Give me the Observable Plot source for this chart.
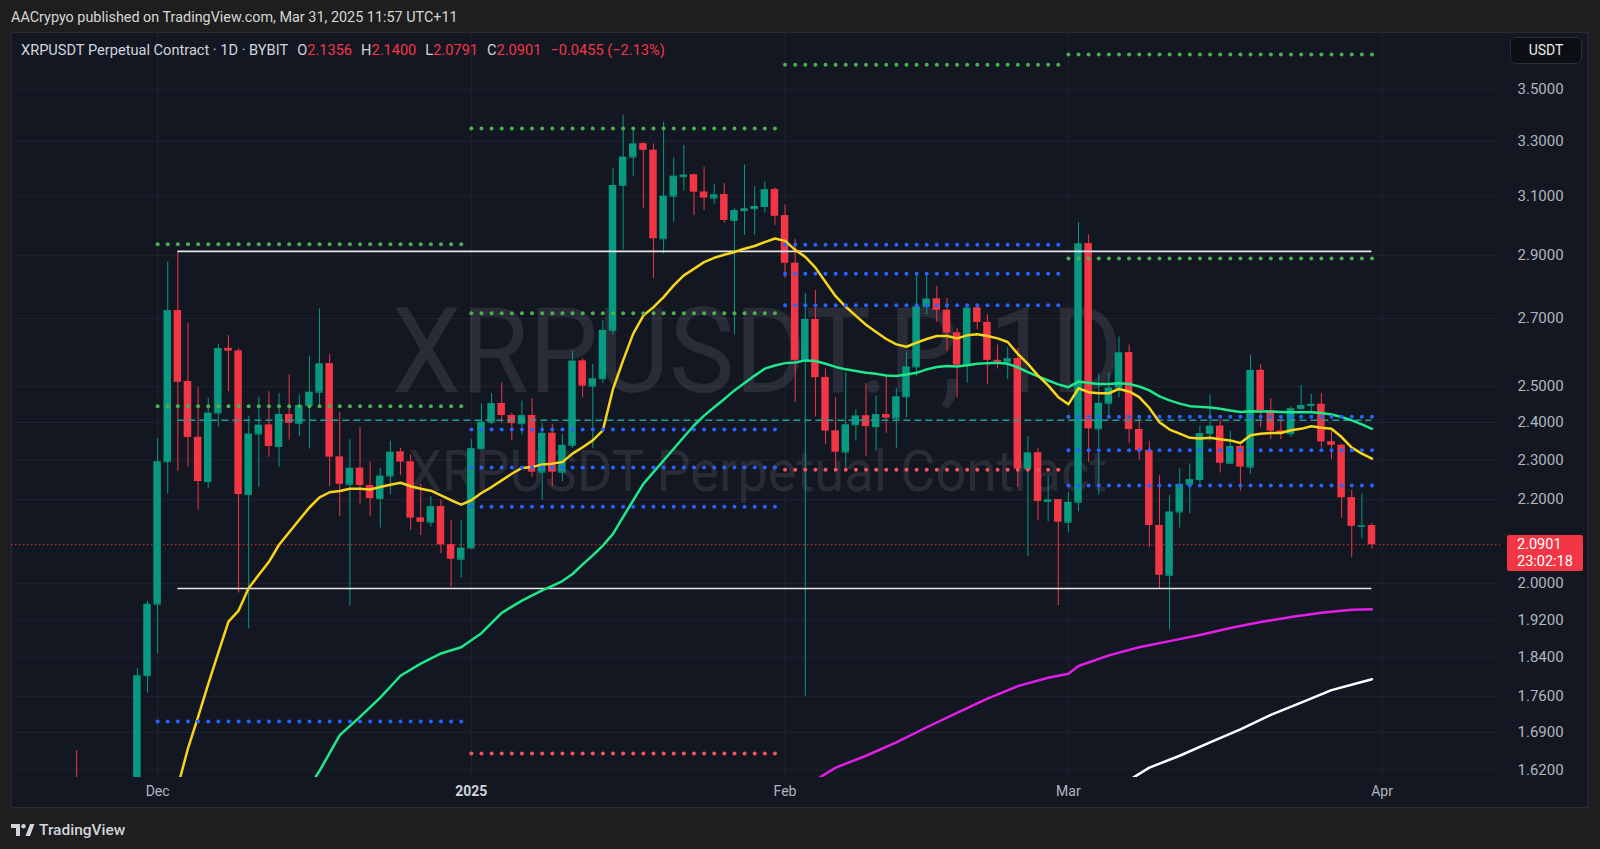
<!DOCTYPE html>
<html><head><meta charset="utf-8"><title>XRPUSDT</title>
<script src="https://cdn.jsdelivr.net/npm/d3@7"></script>
<script src="https://cdn.jsdelivr.net/npm/@observablehq/plot@0.6"></script>
<style>
html,body{margin:0;padding:0;}
body{width:1600px;height:849px;background:#1e1e1e;position:relative;overflow:hidden;font-family:Roboto,"Noto Sans",sans-serif;}
#hdr{position:absolute;left:11px;top:9px;font-size:14.4px;line-height:18px;color:#d6d6d6;white-space:nowrap;}
#panel{position:absolute;left:11px;top:32px;width:1577px;height:776px;background:#131722;box-shadow:inset 0 0 0 1px #262a35;}
#panel svg{position:absolute;left:0;top:0;}
#legend{position:absolute;left:10px;top:9px;font-size:14.6px;line-height:18px;color:#d1d4dc;white-space:pre;}
#legend .v{color:#f23645;}
#legend .g{margin-left:9px;}
#usdt{position:absolute;left:1499px;top:5px;width:72px;height:27px;box-sizing:border-box;border:1px solid #2a2e39;border-radius:6px;background:#0c0e13;color:#e8e8e8;font-size:14px;line-height:25px;text-align:center;}
#price{position:absolute;left:1496px;width:76px;height:36px;background:#f23645;border-radius:2px;color:#fff;font-size:14.5px;line-height:17px;box-sizing:border-box;padding:1px 0 0 10px;}
#footer{position:absolute;left:11px;top:820px;height:20px;display:flex;align-items:center;gap:4px;color:#d1d4dc;font-size:15.5px;font-weight:500;}
</style></head><body>
<div id="hdr">AACrypyo published on TradingView.com, Mar 31, 2025 11:57 UTC+11</div>
<div id="panel"><div id="legend"></div><div id="usdt">USDT</div><div id="price"></div></div>
<div id="footer"><svg width="24" height="13" viewBox="0 0 24 13"><path d="M0 0H9V12H5V4H0Z" fill="#d1d4dc"/><circle cx="12.5" cy="2.2" r="2.2" fill="#d1d4dc"/><path d="M14.5 12L19 0H23.5L19 12Z" fill="#d1d4dc"/></svg><span>TradingView</span></div>
<script>
// ---------- data ----------
const dates = ["2024-11-23","2024-11-29","2024-11-30",
"2024-12-01","2024-12-02","2024-12-03","2024-12-04","2024-12-05","2024-12-06","2024-12-07","2024-12-08","2024-12-09","2024-12-10",
"2024-12-11","2024-12-12","2024-12-13","2024-12-14","2024-12-15","2024-12-16","2024-12-17","2024-12-18","2024-12-19","2024-12-20",
"2024-12-21","2024-12-22","2024-12-23","2024-12-24","2024-12-25","2024-12-26","2024-12-27","2024-12-28","2024-12-29","2024-12-30","2024-12-31",
"2025-01-01","2025-01-02","2025-01-03","2025-01-04","2025-01-05","2025-01-06","2025-01-07","2025-01-08","2025-01-09","2025-01-10",
"2025-01-11","2025-01-12","2025-01-13","2025-01-14","2025-01-15","2025-01-16","2025-01-17","2025-01-18","2025-01-19","2025-01-20",
"2025-01-21","2025-01-22","2025-01-23","2025-01-24","2025-01-25","2025-01-26","2025-01-27","2025-01-28","2025-01-29","2025-01-30","2025-01-31",
"2025-02-01","2025-02-02","2025-02-03","2025-02-04","2025-02-05","2025-02-06","2025-02-07","2025-02-08","2025-02-09","2025-02-10",
"2025-02-11","2025-02-12","2025-02-13","2025-02-14","2025-02-15","2025-02-16","2025-02-17","2025-02-18","2025-02-19","2025-02-20",
"2025-02-21","2025-02-22","2025-02-23","2025-02-24","2025-02-25","2025-02-26","2025-02-27","2025-02-28",
"2025-03-01","2025-03-02","2025-03-03","2025-03-04","2025-03-05","2025-03-06","2025-03-07","2025-03-08","2025-03-09","2025-03-10",
"2025-03-11","2025-03-12","2025-03-13","2025-03-14","2025-03-15","2025-03-16","2025-03-17","2025-03-18","2025-03-19","2025-03-20",
"2025-03-21","2025-03-22","2025-03-23","2025-03-24","2025-03-25","2025-03-26","2025-03-27","2025-03-28","2025-03-29","2025-03-30","2025-03-31"];

const open = [1.56,1.52,1.802,
1.954,2.296,2.724,2.514,2.360,2.245,2.426,2.610,2.602,2.212,2.369,2.393,2.336,2.422,2.398,2.447,2.484,2.565,2.308,2.238,2.279,2.235,2.202,2.259,2.321,2.295,2.154,2.144,2.182,2.090,2.056,
2.082,2.330,2.401,2.452,2.419,2.397,2.419,2.269,2.371,2.269,2.339,2.573,2.501,2.522,2.664,3.139,3.241,3.290,3.266,2.955,3.101,3.170,3.176,3.115,3.094,3.106,3.017,3.051,3.057,3.065,3.124,
3.033,2.874,2.575,2.697,2.525,2.377,2.321,2.394,2.418,2.389,2.422,2.412,2.471,2.556,2.736,2.760,2.725,2.656,2.561,2.732,2.688,2.575,2.570,2.580,2.277,2.319,2.195,2.199,
2.144,2.193,2.938,2.383,2.453,2.496,2.597,2.381,2.325,2.136,2.019,2.169,2.238,2.250,2.370,2.390,2.292,2.336,2.282,2.546,2.433,2.377,2.370,2.438,2.447,2.450,2.348,2.339,2.204,2.134,2.1356];

const high = [1.655,1.816,1.960,
2.357,2.877,2.912,2.685,2.497,2.467,2.623,2.648,2.610,2.417,2.470,2.485,2.480,2.533,2.475,2.587,2.729,2.592,2.428,2.354,2.386,2.295,2.279,2.350,2.331,2.314,2.238,2.207,2.198,2.149,2.148,
2.354,2.452,2.480,2.510,2.425,2.459,2.465,2.398,2.395,2.368,2.602,2.580,2.563,2.694,3.198,3.398,3.347,3.295,3.290,3.372,3.237,3.284,3.180,3.204,3.143,3.145,3.057,3.212,3.135,3.152,3.130,
3.070,2.953,2.778,2.787,2.550,2.468,2.539,2.435,2.508,2.473,2.529,2.495,2.600,2.834,2.837,2.800,2.762,2.670,2.736,2.736,2.712,2.620,2.612,2.610,2.362,2.330,2.258,2.200,
2.218,3.009,2.968,2.536,2.538,2.644,2.620,2.410,2.350,2.260,2.210,2.277,2.290,2.390,2.475,2.408,2.377,2.340,2.590,2.563,2.466,2.410,2.443,2.503,2.478,2.480,2.377,2.340,2.223,2.213,2.1400];

const low = [1.43,1.50,1.767,
1.848,2.213,2.271,2.282,2.174,2.228,2.387,2.485,1.979,1.900,2.230,2.308,2.282,2.353,2.362,2.329,2.440,2.232,2.157,1.950,2.188,2.157,2.130,2.212,2.260,2.124,2.112,2.132,2.069,1.992,2.012,
2.080,2.325,2.395,2.398,2.352,2.366,2.256,2.198,2.233,2.244,2.330,2.468,2.330,2.508,2.650,2.918,3.171,3.057,2.824,2.905,3.011,3.119,3.034,3.051,3.073,3.008,2.650,2.966,2.966,3.042,3.000,
2.826,2.455,1.761,2.415,2.342,2.279,2.270,2.350,2.310,2.323,2.371,2.330,2.413,2.529,2.712,2.688,2.600,2.468,2.510,2.666,2.505,2.550,2.519,2.231,2.062,2.148,2.145,1.951,
2.120,2.170,2.295,2.210,2.420,2.468,2.343,2.300,2.084,1.988,1.897,2.130,2.165,2.240,2.350,2.267,2.290,2.221,2.264,2.386,2.354,2.354,2.360,2.435,2.430,2.331,2.301,2.153,2.060,2.104,2.0791];

const close = [1.48,1.802,1.954,
2.296,2.724,2.512,2.360,2.245,2.426,2.610,2.602,2.212,2.369,2.393,2.336,2.422,2.398,2.447,2.484,2.565,2.308,2.238,2.279,2.235,2.202,2.259,2.321,2.295,2.154,2.144,2.182,2.090,2.056,2.082,
2.330,2.401,2.452,2.419,2.397,2.419,2.269,2.371,2.269,2.339,2.573,2.501,2.522,2.664,3.139,3.241,3.290,3.266,2.955,3.101,3.172,3.176,3.115,3.094,3.106,3.017,3.051,3.057,3.065,3.124,3.031,
2.874,2.575,2.697,2.525,2.377,2.321,2.394,2.418,2.389,2.422,2.412,2.471,2.556,2.736,2.760,2.725,2.656,2.561,2.732,2.688,2.575,2.570,2.580,2.277,2.319,2.195,2.199,2.144,
2.193,2.938,2.383,2.453,2.496,2.597,2.381,2.325,2.136,2.019,2.169,2.238,2.250,2.370,2.390,2.292,2.336,2.282,2.546,2.433,2.377,2.370,2.438,2.447,2.450,2.348,2.339,2.204,2.134,2.1356,2.0901];

// moving averages: [date, value]
const maYellow = [["2024-12-03",1.59],["2024-12-04",1.66],["2024-12-05",1.72],["2024-12-06",1.785],["2024-12-07",1.85],["2024-12-08",1.916],["2024-12-09",1.94],["2024-12-10",1.99],
["2024-12-11",2.02],["2024-12-12",2.05],["2024-12-13",2.09],["2024-12-14",2.12],["2024-12-15",2.15],["2024-12-16",2.18],["2024-12-17",2.205],["2024-12-18",2.218],["2024-12-19",2.221],["2024-12-20",2.227],
["2024-12-21",2.227],["2024-12-22",2.225],["2024-12-23",2.231],["2024-12-24",2.237],["2024-12-25",2.242],["2024-12-26",2.233],["2024-12-27",2.227],["2024-12-28",2.222],["2024-12-29",2.210],["2024-12-30",2.198],["2024-12-31",2.187],
["2025-01-01",2.198],["2025-01-02",2.216],["2025-01-03",2.231],["2025-01-04",2.248],["2025-01-05",2.265],["2025-01-06",2.280],["2025-01-07",2.282],["2025-01-08",2.289],["2025-01-09",2.291],["2025-01-10",2.295],
["2025-01-11",2.317],["2025-01-12",2.334],["2025-01-13",2.352],["2025-01-14",2.379],["2025-01-15",2.493],["2025-01-16",2.575],["2025-01-17",2.654],["2025-01-18",2.709],["2025-01-19",2.735],["2025-01-20",2.766],
["2025-01-21",2.803],["2025-01-22",2.835],["2025-01-23",2.856],["2025-01-24",2.878],["2025-01-25",2.892],["2025-01-26",2.902],["2025-01-27",2.911],["2025-01-28",2.922],["2025-01-29",2.931],["2025-01-30",2.944],["2025-01-31",2.956],
["2025-02-01",2.948],["2025-02-02",2.918],["2025-02-03",2.895],["2025-02-04",2.860],["2025-02-05",2.814],["2025-02-06",2.769],["2025-02-07",2.736],["2025-02-08",2.708],["2025-02-09",2.681],["2025-02-10",2.659],
["2025-02-11",2.638],["2025-02-12",2.622],["2025-02-13",2.615],["2025-02-14",2.627],["2025-02-15",2.638],["2025-02-16",2.647],["2025-02-17",2.647],["2025-02-18",2.640],["2025-02-19",2.649],["2025-02-20",2.652],
["2025-02-21",2.647],["2025-02-22",2.640],["2025-02-23",2.629],["2025-02-24",2.594],["2025-02-25",2.565],["2025-02-26",2.531],["2025-02-27",2.503],["2025-02-28",2.470],
["2025-03-01",2.450],["2025-03-02",2.495],["2025-03-03",2.484],["2025-03-04",2.481],["2025-03-05",2.481],["2025-03-06",2.493],["2025-03-07",2.486],["2025-03-08",2.470],["2025-03-09",2.440],["2025-03-10",2.401],
["2025-03-11",2.381],["2025-03-12",2.370],["2025-03-13",2.359],["2025-03-14",2.357],["2025-03-15",2.359],["2025-03-16",2.355],["2025-03-17",2.352],["2025-03-18",2.345],["2025-03-19",2.366],["2025-03-20",2.370],
["2025-03-21",2.372],["2025-03-22",2.372],["2025-03-23",2.379],["2025-03-24",2.383],["2025-03-25",2.390],["2025-03-26",2.386],["2025-03-27",2.383],["2025-03-28",2.361],["2025-03-29",2.333],["2025-03-30",2.317],["2025-03-31",2.304]];

const maGreen = [["2024-12-16",1.59],["2024-12-17",1.618],["2024-12-19",1.685],["2024-12-21",1.72],["2024-12-23",1.758],["2024-12-25",1.802],["2024-12-27",1.827],["2024-12-29",1.848],["2024-12-31",1.861],
["2025-01-02",1.891],["2025-01-04",1.935],["2025-01-06",1.962],["2025-01-08",1.985],["2025-01-09",1.995],["2025-01-10",2.006],
["2025-01-11",2.022],["2025-01-12",2.044],["2025-01-13",2.065],["2025-01-14",2.088],["2025-01-15",2.116],["2025-01-16",2.157],["2025-01-17",2.198],["2025-01-18",2.239],["2025-01-19",2.269],["2025-01-20",2.299],
["2025-01-21",2.330],["2025-01-22",2.361],["2025-01-23",2.392],["2025-01-24",2.419],["2025-01-25",2.442],["2025-01-26",2.465],["2025-01-27",2.489],["2025-01-28",2.510],["2025-01-29",2.531],["2025-01-30",2.551],["2025-01-31",2.560],
["2025-02-01",2.567],["2025-02-02",2.569],["2025-02-03",2.575],["2025-02-04",2.573],["2025-02-05",2.565],["2025-02-06",2.556],["2025-02-07",2.549],["2025-02-08",2.544],["2025-02-09",2.539],["2025-02-10",2.536],
["2025-02-11",2.531],["2025-02-12",2.530],["2025-02-13",2.534],["2025-02-14",2.539],["2025-02-15",2.549],["2025-02-16",2.556],["2025-02-17",2.559],["2025-02-18",2.557],["2025-02-19",2.561],["2025-02-20",2.565],
["2025-02-21",2.567],["2025-02-22",2.568],["2025-02-23",2.565],["2025-02-24",2.555],["2025-02-25",2.541],["2025-02-26",2.529],["2025-02-27",2.517],["2025-02-28",2.506],
["2025-03-01",2.498],["2025-03-02",2.514],["2025-03-03",2.510],["2025-03-04",2.507],["2025-03-05",2.507],["2025-03-06",2.509],["2025-03-07",2.507],["2025-03-08",2.500],["2025-03-09",2.489],["2025-03-10",2.472],
["2025-03-11",2.461],["2025-03-12",2.452],["2025-03-13",2.445],["2025-03-14",2.443],["2025-03-15",2.441],["2025-03-16",2.438],["2025-03-17",2.433],["2025-03-18",2.429],["2025-03-19",2.431],["2025-03-20",2.430],
["2025-03-21",2.430],["2025-03-22",2.429],["2025-03-23",2.428],["2025-03-24",2.428],["2025-03-25",2.428],["2025-03-26",2.426],["2025-03-27",2.422],["2025-03-28",2.415],["2025-03-29",2.406],["2025-03-30",2.395],["2025-03-31",2.383]];

const maMagenta = [["2025-02-03",1.59],["2025-02-06",1.624],["2025-02-09",1.646],["2025-02-12",1.671],["2025-02-15",1.700],["2025-02-18",1.728],["2025-02-21",1.756],["2025-02-24",1.781],["2025-02-27",1.798],
["2025-03-01",1.806],["2025-03-02",1.822],["2025-03-05",1.844],["2025-03-08",1.861],["2025-03-11",1.874],["2025-03-14",1.887],["2025-03-17",1.902],["2025-03-20",1.915],["2025-03-23",1.926],["2025-03-26",1.935],["2025-03-29",1.942],["2025-03-31",1.943]];

const maWhite = [["2025-03-06",1.59],["2025-03-09",1.624],["2025-03-12",1.646],["2025-03-15",1.671],["2025-03-18",1.696],["2025-03-21",1.724],["2025-03-24",1.748],["2025-03-27",1.773],["2025-03-31",1.795]];

// horizontal levels: [from, to, price]
const greenLevels = [["2024-12-01","2024-12-31",2.937],["2024-12-01","2024-12-31",2.445],["2025-01-01","2025-01-31",3.348],["2025-01-01","2025-01-31",2.716],
["2025-02-01","2025-02-28",3.598],["2025-03-01","2025-03-31",3.640],["2025-03-01","2025-03-31",2.890]];
const blueLevels = [["2024-12-01","2024-12-31",1.711],["2025-01-01","2025-01-31",2.381],["2025-01-01","2025-01-31",2.281],["2025-01-01","2025-01-31",2.182],
["2025-02-01","2025-02-28",2.935],["2025-02-01","2025-02-28",2.840],["2025-02-01","2025-02-28",2.741],
["2025-03-01","2025-03-31",2.416],["2025-03-01","2025-03-31",2.326],["2025-03-01","2025-03-31",2.235]];
const redLevels = [["2025-01-01","2025-01-31",1.650],["2025-02-01","2025-02-28",2.275]];
const whiteLevels = [["2024-12-03","2025-03-31",2.913],["2024-12-03","2025-03-31",1.989]];
const tealLevels = [["2024-12-03","2025-03-31",2.406]];

const yTicks = [1.62,1.69,1.76,1.84,1.92,2.0,2.2,2.3,2.4,2.5,2.7,2.9,3.1,3.3,3.5];
const xTicks = ["2024-12-01","2025-01-01","2025-02-01","2025-03-01","2025-04-01"];
const xLabels = ["Dec","2025","Feb","Mar","Apr"];
const symbolName = "XRPUSDT Perpetual Contract · 1D · BYBIT";
const ohlcKeys = ["O","H","L","C"];
const countdown = "23:02:18";
const watermark1 = "XRPUSDT.P, 1D";
const watermark2 = "XRPUSDT Perpetual Contract";

// ---------- build ----------
const parse = d3.utcParse("%Y-%m-%d");
const DAY = 864e5;
const candles = dates.map((d,i)=>({date:parse(d),open:open[i],high:high[i],low:low[i],close:close[i]}));
const UP="#089981", DOWN="#f23645";
const col = d => d.close >= d.open ? UP : DOWN;
const half = 0.37*DAY;

const dotsFor = (arr, color) => arr.flatMap(l => d3.utcDay.range(parse(l[0]), d3.utcDay.offset(parse(l[1]),1)).map(t => ({date:t, value:l[2], color})));
const levelDots = [...dotsFor(greenLevels,"#4caf50"), ...dotsFor(blueLevels,"#2962ff"), ...dotsFor(redLevels,"#f7525f")];

const W = 1577, H = 776, MR = 88, MB = 31;
const dec1 = +parse("2024-12-01");
const xDomain = [new Date(dec1 - 14.44*DAY), new Date(dec1 + 132.7*DAY)];
const last = candles[candles.length-1], prev = candles[candles.length-2];
const grid = "#1f2330";
const xt = xTicks.map(parse);
const labelOf = d => xLabels[xt.findIndex(t => +t === +d)];

const chart = Plot.plot({
  width: W, height: H,
  marginLeft: 0, marginRight: MR, marginTop: 0, marginBottom: MB,
  style: {background: "transparent", fontFamily: "Roboto, 'Noto Sans', sans-serif", overflow: "visible"},
  x: {type: "utc", domain: xDomain},
  y: {type: "log", domain: [1.606, 3.732]},
  color: {type: "identity"},
  marks: [
    Plot.ruleY(yTicks, {stroke: grid, strokeWidth: 1}),
    Plot.ruleX(xt, {stroke: grid, strokeWidth: 1}),
    Plot.text([watermark1], {frameAnchor: "middle", dx: 1.5, dy: -51, lineAnchor: "middle", fontSize: 118, fill: "rgba(255,255,255,0.095)"}),
    Plot.text([watermark2], {frameAnchor: "middle", dx: 1.5, dy: 67, lineAnchor: "middle", fontSize: 58, fill: "rgba(255,255,255,0.095)"}),
    Plot.ruleY([last.close], {stroke: "#f23645", strokeWidth: 1, strokeDasharray: "1.5,2.5", strokeOpacity: 0.9}),
    Plot.ruleX(candles, {x: "date", y1: "low", y2: "high", stroke: col, strokeWidth: 1, clip: true}),
    Plot.rect(candles, {x1: d => new Date(+d.date - half), x2: d => new Date(+d.date + half), y1: d => Math.min(d.open, d.close), y2: d => Math.max(d.open, d.close), fill: col, clip: true}),
    Plot.ruleY(candles, {y: "open", x1: d => new Date(+d.date - half), x2: d => new Date(+d.date + half), stroke: col, strokeWidth: 1, clip: true}),
    Plot.ruleY(whiteLevels, {y: d => d[2], x1: d => parse(d[0]), x2: d => parse(d[1]), stroke: "#e6e6e6", strokeWidth: 1.6}),
    Plot.ruleY(tealLevels, {y: d => d[2], x1: d => parse(d[0]), x2: d => parse(d[1]), stroke: "#1f9e9a", strokeWidth: 1.5, strokeDasharray: "7,4"}),
    Plot.line(maWhite, {x: d => parse(d[0]), y: d => d[1], stroke: "#ffffff", strokeWidth: 2.5, clip: true}),
    Plot.line(maMagenta, {x: d => parse(d[0]), y: d => d[1], stroke: "#e31ee8", strokeWidth: 2.5, clip: true}),
    Plot.line(maGreen, {x: d => parse(d[0]), y: d => d[1], stroke: "#1ee88a", strokeWidth: 2.5, clip: true}),
    Plot.line(maYellow, {x: d => parse(d[0]), y: d => d[1], stroke: "#f7d51d", strokeWidth: 2.5, clip: true}),
    Plot.dot(levelDots, {x: "date", y: "value", r: 2, fill: "color", stroke: null}),
    Plot.axisY(yTicks, {anchor: "right", tickSize: 0, tickPadding: 17, tickFormat: d => d.toFixed(4), fill: "#b2b5be", fontSize: 15, label: null}),
    Plot.axisX(xt.filter((d,i) => i !== 1), {anchor: "bottom", tickSize: 0, tickPadding: 9, tickFormat: labelOf, fill: "#b2b5be", fontSize: 14, label: null}),
    Plot.axisX([xt[1]], {anchor: "bottom", tickSize: 0, tickPadding: 9, tickFormat: labelOf, fill: "#d1d4dc", fontSize: 14, fontWeight: "bold", label: null})
  ]
});

for (const t of chart.querySelectorAll("text")) {
  if (t.textContent === watermark1) { t.setAttribute("textLength", 731); t.setAttribute("lengthAdjust", "spacingAndGlyphs"); }
  if (t.textContent === watermark2) { t.setAttribute("textLength", 699); t.setAttribute("lengthAdjust", "spacingAndGlyphs"); }
}

const panel = document.getElementById("panel");
panel.insertBefore(chart, panel.firstChild);

// legend
const chg = last.close - prev.close;
const sign = v => (v < 0 ? "\u2212" : "+");
const vals = [last.open, last.high, last.low, last.close];
let html = `<span>${symbolName}</span>`;
ohlcKeys.forEach((k,i) => { html += `<span class="g">${k}<span class="v">${vals[i].toFixed(4)}</span></span>`; });
html += `<span class="g v">${sign(chg)}${Math.abs(chg).toFixed(4)} (${sign(chg)}${Math.abs(chg/prev.close*100).toFixed(2)}%)</span>`;
document.getElementById("legend").innerHTML = html;

// price label
const yPix = chart.scale("y").apply(last.close);
const pl = document.getElementById("price");
pl.style.top = (yPix - 9.5) + "px";
pl.innerHTML = `${last.close.toFixed(4)}<br>${countdown}`;
</script>
</body></html>
